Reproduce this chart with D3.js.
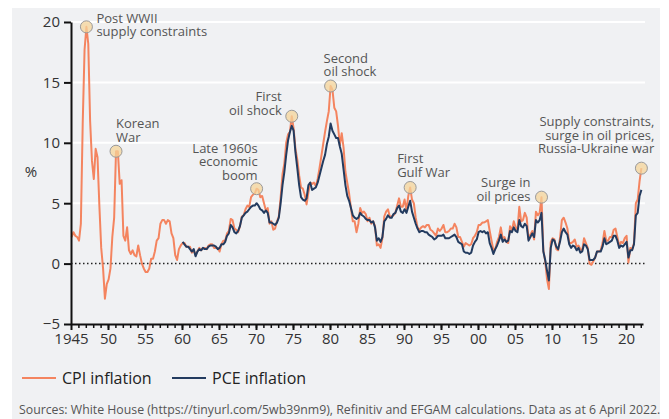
<!DOCTYPE html>
<html>
<head>
<meta charset="utf-8">
<script src="https://cdn.jsdelivr.net/npm/d3@7"></script>
<style>
  body { margin: 0; background: #ffffff; }
  text { font-family: "Open Sans", "Noto Sans", sans-serif; }
</style>
</head>
<body>
<div id="chart"></div>
<script>
// DATA
// year-on-year inflation, %, sampled Feb / May / Aug / Nov
const CPI_START = 1945 + 1 / 12;
const cpiValues = [
  2.2, 2.6, 2.3, 2.2,   1.9, 3.3, 11.6, 17.7,   19.6, 18.2, 11.8, 8.5,   7.0, 9.5, 8.8, 4.8,
  1.3, -0.4, -2.9, -1.7,   -1.3, -0.4, 2.2, 3.8,   9.3, 9.3, 6.6, 6.9,   2.3, 1.9, 3.0, 1.1,
  0.8, 1.1, 0.7, 0.6,   1.5, 0.7, 0.0, -0.4,   -0.7, -0.7, -0.4, 0.4,   0.4, 1.0, 1.9, 2.1,
  3.3, 3.6, 3.6, 3.3,   3.6, 3.5, 2.5, 2.1,   0.7, 0.3, 1.2, 1.5,   1.7, 1.7, 1.4, 1.4,
  1.4, 0.9, 1.1, 0.7,   1.0, 1.3, 1.1, 1.3,   1.3, 1.2, 1.5, 1.6,   1.6, 1.3, 1.3, 1.3,
  1.0, 1.6, 1.9, 1.9,   2.5, 2.7, 3.7, 3.6,   2.9, 2.8, 2.6, 3.1,   3.9, 4.0, 4.5, 4.8,
  4.7, 5.5, 5.7, 5.8,   6.2, 6.1, 5.5, 5.6,   5.0, 4.4, 4.6, 3.3,   3.5, 2.8, 2.9, 3.5,
  3.9, 5.5, 7.4, 8.3,   10.0, 10.7, 10.9, 12.2,   11.2, 9.5, 8.6, 7.3,   6.3, 6.2, 5.7, 4.9,
  5.9, 6.7, 6.6, 6.7,   6.4, 7.0, 7.9, 8.9,   9.9, 10.9, 11.8, 12.6,   14.7, 14.4, 12.9, 12.6,
  11.4, 9.8, 10.8, 9.6,   7.6, 6.7, 5.8, 4.6,   3.5, 3.5, 2.6, 3.3,   4.6, 4.2, 4.3, 4.1,
  3.5, 3.8, 3.3, 3.5,   3.1, 1.5, 1.6, 1.3,   2.1, 3.9, 4.3, 4.5,   3.9, 3.9, 4.0, 4.2,
  4.8, 5.4, 4.7, 4.7,   5.3, 4.4, 5.6, 6.3,   5.3, 5.0, 3.8, 3.0,   2.8, 3.0, 3.1, 3.0,
  3.2, 3.2, 2.8, 2.7,   2.5, 2.3, 2.9, 2.7,   2.9, 3.2, 2.6, 2.6,   2.7, 2.9, 2.9, 3.3,
  3.0, 2.2, 2.2, 1.8,   1.4, 1.7, 1.6, 1.5,   1.6, 2.1, 2.3, 2.6,   3.2, 3.2, 3.4, 3.4,
  3.5, 3.6, 2.7, 1.9,   1.1, 1.2, 1.8, 2.2,   3.0, 2.1, 2.2, 1.8,   1.7, 3.1, 2.7, 3.5,
  3.0, 2.8, 4.7, 3.5,   3.6, 4.2, 3.8, 2.0,   2.4, 2.7, 2.0, 4.3,   4.0, 4.2, 5.5, 1.1,
  0.2, -1.3, -2.1, 1.8,   2.1, 2.0, 1.2, 1.1,   2.1, 3.6, 3.8, 3.4,   2.9, 1.7, 1.7, 1.8,
  2.0, 1.4, 1.5, 1.2,   1.1, 2.1, 1.7, 1.3,   0.0, -0.1, 0.2, 0.5,   1.0, 1.0, 1.1, 1.7,
  2.7, 1.9, 1.9, 2.2,   2.2, 2.8, 2.9, 2.2,   1.5, 1.8, 1.7, 2.1,   2.3, 0.1, 1.3, 1.2,
  1.7, 5.0, 5.3, 6.8,   7.9
];

const PCE_START = 1960 + 1 / 12;
const pceValues = [
  1.8, 1.6, 1.4, 1.4,   1.2, 1.0, 1.2, 0.6,   1.0, 1.2, 1.1, 1.3,   1.2, 1.2, 1.4, 1.5,
  1.5, 1.5, 1.4, 1.2,   1.3, 1.6, 1.6, 1.8,   2.3, 2.5, 3.2, 3.0,   2.6, 2.5, 2.7, 3.1,
  3.8, 4.0, 4.2, 4.3,   4.5, 4.7, 4.8, 4.8,   5.0, 4.8, 4.5, 4.4,   4.2, 4.4, 4.2, 3.4,
  3.4, 3.3, 3.2, 3.4,   3.8, 5.0, 6.5, 7.6,   9.0, 10.2, 10.9, 11.4,   11.0, 9.2, 7.9, 6.5,
  5.5, 5.3, 5.2, 5.4,   6.5, 6.7, 6.1, 6.2,   6.3, 6.7, 7.3, 7.9,   8.5, 9.0, 9.9, 10.5,
  11.6, 11.0, 10.7, 10.4,   10.4, 9.7, 9.1, 7.8,   6.5, 5.6, 5.2, 4.6,   4.0, 3.8, 3.7, 3.8,
  4.2, 4.0, 3.9, 3.7,   3.6, 3.6, 3.4, 3.5,   3.0, 1.9, 2.1, 1.8,   2.2, 3.5, 3.7, 4.0,
  3.8, 3.8, 4.1, 4.2,   4.6, 4.8, 4.3, 4.2,   4.5, 4.2, 4.7, 5.2,   4.3, 3.8, 3.3, 2.9,
  2.6, 2.7, 2.7, 2.6,   2.6, 2.4, 2.3, 2.2,   2.0, 2.1, 2.3, 2.3,   2.3, 2.4, 2.1, 2.1,
  2.1, 2.2, 2.3, 2.4,   2.2, 1.8, 1.7, 1.6,   1.0, 0.9, 0.9, 0.8,   0.9, 1.5, 1.8, 2.0,
  2.6, 2.7, 2.6, 2.7,   2.5, 2.6, 1.7, 1.3,   0.8, 1.2, 1.5, 1.9,   2.4, 1.8, 2.0, 1.8,
  1.9, 2.7, 2.6, 3.0,   2.7, 2.6, 3.6, 3.1,   3.0, 3.3, 3.1, 1.9,   2.2, 2.5, 2.2, 3.6,
  3.4, 3.6, 4.2, 1.0,   0.3, -0.6, -1.4, 1.3,   2.0, 1.9, 1.4, 1.2,   1.8, 2.6, 2.9, 2.6,
  2.4, 1.6, 1.3, 1.5,   1.4, 1.1, 1.3, 0.9,   1.0, 1.6, 1.5, 1.2,   0.3, 0.3, 0.3, 0.5,
  1.0, 1.0, 1.0, 1.4,   2.1, 1.6, 1.7, 1.8,   1.9, 2.3, 2.3, 1.9,   1.3, 1.5, 1.4, 1.6,
  1.8, 0.5, 1.1, 1.1,   1.6, 4.0, 4.2, 5.6,   6.1
];

// axis ticks
const xMajorYears = [1945, 1950, 1955, 1960, 1965, 1970, 1975, 1980, 1985, 1990, 1995, 2000, 2005, 2010, 2015, 2020];
const xTickLabels = ["1945", "50", "55", "60", "65", "70", "75", "80", "85", "90", "95", "00", "05", "10", "15", "20"];
const yTicks = [-5, 0, 5, 10, 15, 20];

// annotated CPI points and their labels
const annotDates = [1947 + 1 / 12, 1951 + 1 / 12, 1970 + 1 / 12, 1974 + 10 / 12, 1980 + 1 / 12, 1990 + 10 / 12, 2008 + 7 / 12, 2022 + 1 / 12];
const annotLabels = [
  ["Post WWII", "supply constraints"],
  ["Korean", "War"],
  ["Late 1960s", "economic", "boom"],
  ["First", "oil shock"],
  ["Second", "oil shock"],
  ["First", "Gulf War"],
  ["Surge in", "oil prices"],
  ["Supply constraints,", "surge in oil prices,", "Russia-Ukraine war"]
];

const seriesNames = ["CPI inflation", "PCE inflation"];
const sourceText = "Sources: White House (https://tinyurl.com/5wb39nm9), Refinitiv and EFGAM calculations. Data as at 6 April 2022.";

// FRAME
const FRAME_WIDTH = 669;
const FRAME_HEIGHT = 419;
const PLOT = {left: 71, right: 643, top: 22, bottom: 324};
const COLORS = {cpi: "#f4845f", pce: "#233b5f", bg: "#f0f1f3"};

const FRAME = d3.select("#chart")
                .append("svg")
                  .attr("width", FRAME_WIDTH)
                  .attr("height", FRAME_HEIGHT);

// grey panel
FRAME.append("rect")
      .attr("x", 12)
      .attr("y", 8)
      .attr("width", 648)
      .attr("height", FRAME_HEIGHT - 8)
      .attr("fill", COLORS.bg);

// scales
const X_SCALE = d3.scaleLinear()
                  .domain([1945, 2022.3])
                  .range([PLOT.left, PLOT.right]);
const Y_SCALE = d3.scaleLinear()
                  .domain([-5, 20])
                  .range([PLOT.bottom, PLOT.top]);

// turn value arrays into points
function toPoints(start, values) {
  return values.map((v, i) => ({date: start + i / 4, value: v}));
}
const cpiData = toPoints(CPI_START, cpiValues);
const pceData = toPoints(PCE_START, pceValues);

// white gridlines
FRAME.append("g")
      .selectAll("line")
      .data(yTicks.filter(d => d > 0))
      .enter()
      .append("line")
        .attr("x1", PLOT.left)
        .attr("x2", PLOT.right + 2)
        .attr("y1", d => Y_SCALE(d))
        .attr("y2", d => Y_SCALE(d))
        .attr("stroke", "#ffffff")
        .attr("stroke-width", 2);

// dotted zero line
FRAME.append("line")
      .attr("x1", PLOT.left)
      .attr("x2", PLOT.right + 2)
      .attr("y1", Y_SCALE(0))
      .attr("y2", Y_SCALE(0))
      .attr("stroke", "#222")
      .attr("stroke-width", 1.5)
      .attr("stroke-dasharray", "1.5,2.5");

// lines
const LINE = d3.line()
               .x(d => X_SCALE(d.date))
               .y(d => Y_SCALE(d.value));

FRAME.append("path")
      .datum(cpiData)
      .attr("d", LINE)
      .attr("fill", "none")
      .attr("stroke", COLORS.cpi)
      .attr("stroke-width", 2)
      .attr("stroke-linejoin", "round");

FRAME.append("path")
      .datum(pceData)
      .attr("d", LINE)
      .attr("fill", "none")
      .attr("stroke", COLORS.pce)
      .attr("stroke-width", 2)
      .attr("stroke-linejoin", "round");

// y axis
const Y_AXIS = FRAME.append("g")
                    .attr("transform", "translate(" + PLOT.left + ",0)")
                    .call(d3.axisLeft(Y_SCALE).tickValues(yTicks).tickSize(7).tickPadding(4).tickSizeOuter(0));
Y_AXIS.select(".domain").attr("stroke", "#111").attr("stroke-width", 2);
Y_AXIS.selectAll(".tick line").attr("stroke", "#111").attr("stroke-width", 2);
Y_AXIS.selectAll(".tick text")
      .attr("font-size", "15px")
      .attr("fill", "#333");

// x axis, minor ticks each year
const X_MINOR = FRAME.append("g")
                     .attr("transform", "translate(0," + PLOT.bottom + ")")
                     .call(d3.axisBottom(X_SCALE).tickValues(d3.range(1946, 2023)).tickSize(4).tickFormat("").tickSizeOuter(0));
X_MINOR.select(".domain").remove();
X_MINOR.selectAll(".tick line").attr("stroke", "#111").attr("stroke-width", 1.5);

const X_AXIS = FRAME.append("g")
                    .attr("transform", "translate(0," + PLOT.bottom + ")")
                    .call(d3.axisBottom(X_SCALE).tickValues(xMajorYears).tickSize(6).tickPadding(3).tickSizeOuter(0)
                            .tickFormat((d, i) => xTickLabels[i]));
X_AXIS.select(".domain").attr("stroke", "#111").attr("stroke-width", 2);
X_AXIS.selectAll(".tick line").attr("stroke", "#111").attr("stroke-width", 2);
X_AXIS.selectAll(".tick text")
      .attr("font-size", "15px")
      .attr("fill", "#333");

// % label
FRAME.append("text")
      .attr("x", 31)
      .attr("y", 177)
      .attr("text-anchor", "middle")
      .attr("font-size", "15px")
      .attr("fill", "#333")
      .text("%");

// annotations: circle on the CPI line plus label lines
const ANNOT_LAYOUT = [
  {dx: 10, dy: -4, anchor: "start"},
  {dx: 0, dy: -23, anchor: "start"},
  {dx: 1, dy: -36, anchor: "end"},
  {dx: -10, dy: -15, anchor: "end"},
  {dx: -7, dy: -23, anchor: "start"},
  {dx: -13, dy: -24, anchor: "start"},
  {dx: -11, dy: -10, anchor: "end"},
  {dx: 13, dy: -42, anchor: "end"}
];
const LINE_GAP = 13.4;

annotDates.forEach((date, i) => {
  const idx = Math.round((date - CPI_START) * 4);
  const cx = X_SCALE(cpiData[idx].date);
  const cy = Y_SCALE(cpiData[idx].value);
  const lay = ANNOT_LAYOUT[i];

  FRAME.append("circle")
        .attr("cx", cx)
        .attr("cy", cy)
        .attr("r", 6)
        .attr("fill", "#f6d49a")
        .attr("fill-opacity", 0.75)
        .attr("stroke", "#9a9a9a")
        .attr("stroke-width", 1);

  const label = FRAME.append("text")
                     .attr("text-anchor", lay.anchor)
                     .attr("font-size", "13px")
                     .attr("fill", "#555");
  annotLabels[i].forEach((t, j) => {
    label.append("tspan")
          .attr("x", cx + lay.dx)
          .attr("y", cy + lay.dy + j * LINE_GAP)
          .text(t);
  });
});

// legend
const LEGEND = FRAME.append("g");
const legendX = [22, 172];
const legendColors = [COLORS.cpi, COLORS.pce];
seriesNames.forEach((name, i) => {
  LEGEND.append("line")
        .attr("x1", legendX[i])
        .attr("x2", legendX[i] + 34)
        .attr("y1", 378)
        .attr("y2", 378)
        .attr("stroke", legendColors[i])
        .attr("stroke-width", 2);
  LEGEND.append("text")
        .attr("x", legendX[i] + 40)
        .attr("y", 384)
        .attr("font-size", "16px")
        .attr("fill", "#222")
        .text(name);
});

// source note
FRAME.append("text")
      .attr("x", 19)
      .attr("y", 414)
      .attr("font-size", "12.3px")
      .attr("fill", "#555")
      .text(sourceText);
</script>
</body>
</html>
